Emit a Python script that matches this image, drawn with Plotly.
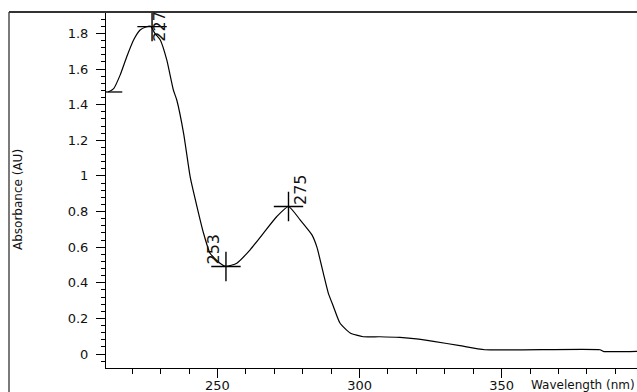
import plotly.graph_objects as go

# Spectrum data (wavelength nm, absorbance AU)
wavelength = [211.6, 213.5, 215.8, 218.1, 220.5, 222.8, 224.8, 226.5, 228.0, 229.9,
              232.2, 234.5, 235.7, 238.1, 240.4, 242.8, 245.1, 247.4, 250.9, 253.0,
              256.8, 261.5, 266.2, 270.9, 275.0, 279.1, 283.2, 285.0, 287.3, 289.0,
              290.8, 293.1, 296.7, 301.3, 307.0, 314.2, 320.0, 326.0, 335.3, 344.1,
              384.6, 385.7, 397.6]
absorbance = [1.471, 1.49, 1.567, 1.669, 1.763, 1.819, 1.836, 1.84, 1.80, 1.763,
              1.65, 1.482, 1.426, 1.239, 0.996, 0.828, 0.679, 0.566, 0.51, 0.492,
              0.51, 0.585, 0.679, 0.772, 0.828, 0.753, 0.67, 0.60, 0.45, 0.342,
              0.267, 0.174, 0.118, 0.097, 0.097, 0.093, 0.085, 0.071, 0.047, 0.024,
              0.024, 0.015, 0.015]

# Labelled extrema
peak_wl = [227, 253, 275]
peak_abs = [1.838, 0.491, 0.828]
peak_labels = ["227", "253", "275"]
label_xshift = [8, -12, 12]
label_yshift = [0, 18, 17]

TXT = "#111111"
FONT = "DejaVu Sans"

fig = go.Figure()
fig.add_trace(go.Scatter(
    x=wavelength, y=absorbance, mode="lines",
    line=dict(color="black", width=1.2, shape="spline", smoothing=0.5),
    hoverinfo="skip", showlegend=False))
# start tick marker
fig.add_trace(go.Scatter(
    x=wavelength[:1], y=absorbance[:1], mode="markers",
    marker=dict(symbol="line-ew", size=20, color="black", line=dict(color="black", width=1.3)),
    showlegend=False, hoverinfo="skip"))
fig.add_trace(go.Scatter(
    x=peak_wl, y=peak_abs, mode="markers",
    marker=dict(symbol="cross-thin-open", size=21, color="black",
                line=dict(color="black", width=1.4)),
    showlegend=False, hoverinfo="skip", cliponaxis=False))

for wl, ab, lab, xs, ys in zip(peak_wl, peak_abs, peak_labels, label_xshift, label_yshift):
    fig.add_annotation(x=wl, y=ab, text=lab, showarrow=False, textangle=-90,
                       xanchor="center", yanchor="middle", xshift=xs, yshift=ys,
                       font=dict(family=FONT, size=16, color=TXT))

L, R, T, B = 106, 0, 12, 24
W, H = 637, 392
pw = W - L - R
ph = H - T - B

# Axis titles
fig.add_annotation(xref="paper", yref="paper", x=(529 - L) / pw, y=(H - B - 385) / ph,
                   text="Wavelength (nm)", showarrow=False, xanchor="left", yanchor="middle",
                   font=dict(family=FONT, size=12, color=TXT))
fig.add_annotation(xref="paper", yref="paper", x=(18 - L) / pw, y=(H - B - 200) / ph,
                   text="Absorbance (AU)", showarrow=False, textangle=-90,
                   xanchor="center", yanchor="middle",
                   font=dict(family=FONT, size=12, color=TXT))

# Frame lines
fx = (9 - L) / pw
fig.add_shape(type="line", xref="paper", yref="paper", x0=fx, x1=1.0, y0=1, y1=1,
              line=dict(color="#333333", width=2))
fig.add_shape(type="line", xref="paper", yref="paper", x0=fx, x1=fx, y0=1, y1=-0.07,
              line=dict(color="#333333", width=1.3))

fig.update_xaxes(range=[210.8, 397.6], tick0=250, dtick=50, ticks="outside", ticklen=9,
                 tickwidth=1, tickcolor="black", showline=True, linecolor="black", linewidth=1,
                 showgrid=False, zeroline=False, automargin=False, ticklabelstandoff=-4,
                 minor=dict(dtick=10, tick0=250, ticks="outside", ticklen=5, tickcolor="black"),
                 tickfont=dict(family=FONT, size=13, color=TXT))
fig.update_yaxes(range=[-0.0785, 1.92], tick0=0, dtick=0.2, ticks="outside", ticklen=9,
                 tickwidth=1, tickcolor="black", showline=True, linecolor="black", linewidth=1,
                 showgrid=False, zeroline=False, automargin=False, ticklabelstandoff=5,
                 minor=dict(dtick=0.04, tick0=0, ticks="outside", ticklen=4, tickcolor="black"),
                 tickfont=dict(family=FONT, size=13, color=TXT))

fig.update_layout(width=W, height=H, margin=dict(l=L, r=R, t=T, b=B, autoexpand=False),
                  paper_bgcolor="white", plot_bgcolor="white", showlegend=False)

fig.write_html("out.html", config={"displayModeBar": False},
               post_script="document.body.style.margin='0px';"
                           "document.body.style.overflow='hidden';")
